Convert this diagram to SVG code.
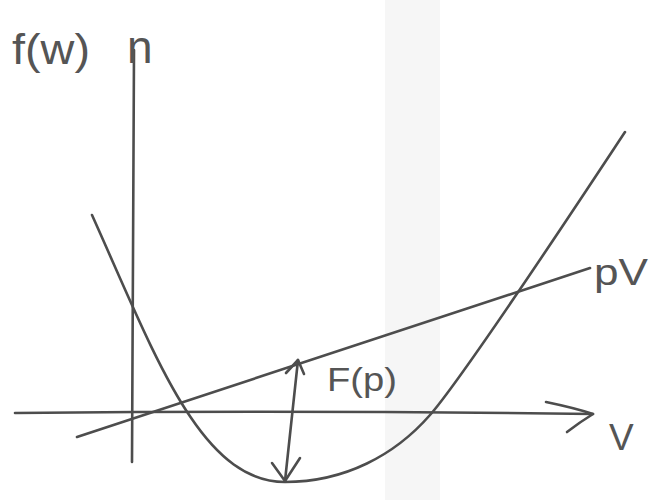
<svg xmlns="http://www.w3.org/2000/svg" width="658" height="500" viewBox="0 0 658 500">
  <defs>
    <style>
      .ln { fill: none; stroke: #4d4d4d; stroke-width: 2.6; stroke-linecap: round; stroke-linejoin: round; }
      .lbl { font-family: "Liberation Sans", Arial, sans-serif; fill: #555555; }
    </style>
  </defs>
  <rect x="0" y="0" width="658" height="500" fill="#ffffff"/>
  <rect x="385" y="0" width="55" height="500" fill="#f6f6f6"/>

  <g id="axes">
    <path class="ln" d="M134,50 L132,462"/>
    <path class="ln" d="M15,413 Q300,410 593,414"/>
    <path class="ln" d="M546,402 Q575,408 593,414 Q580,422 567,432"/>
  </g>

  <g id="curve-f">
    <path class="ln" d="M92,215 C155,355 200,482 285,482 C345,482 395,455 430,415 C465,375 580,200 625,132"/>
  </g>

  <g id="line-pV">
    <path class="ln" d="M77,437 L590,268"/>
  </g>

  <g id="arrow-F">
    <path class="ln" d="M298,360 L285,481"/>
    <path class="ln" d="M286,373 L298,360 L304,374"/>
    <path class="ln" d="M272,463 L285,481 L300,458"/>
  </g>

  <g id="labels">
    <text class="lbl" x="12" y="64" font-size="42" textLength="78" lengthAdjust="spacingAndGlyphs">f(w)</text>
    <text class="lbl" x="127" y="63" font-size="46">n</text>
    <text class="lbl" x="594" y="285" font-size="36" textLength="54" lengthAdjust="spacingAndGlyphs">pV</text>
    <text class="lbl" x="609" y="450" font-size="37">V</text>
    <text class="lbl" x="327" y="391" font-size="34" textLength="70" lengthAdjust="spacingAndGlyphs">F(p)</text>
  </g>
</svg>
